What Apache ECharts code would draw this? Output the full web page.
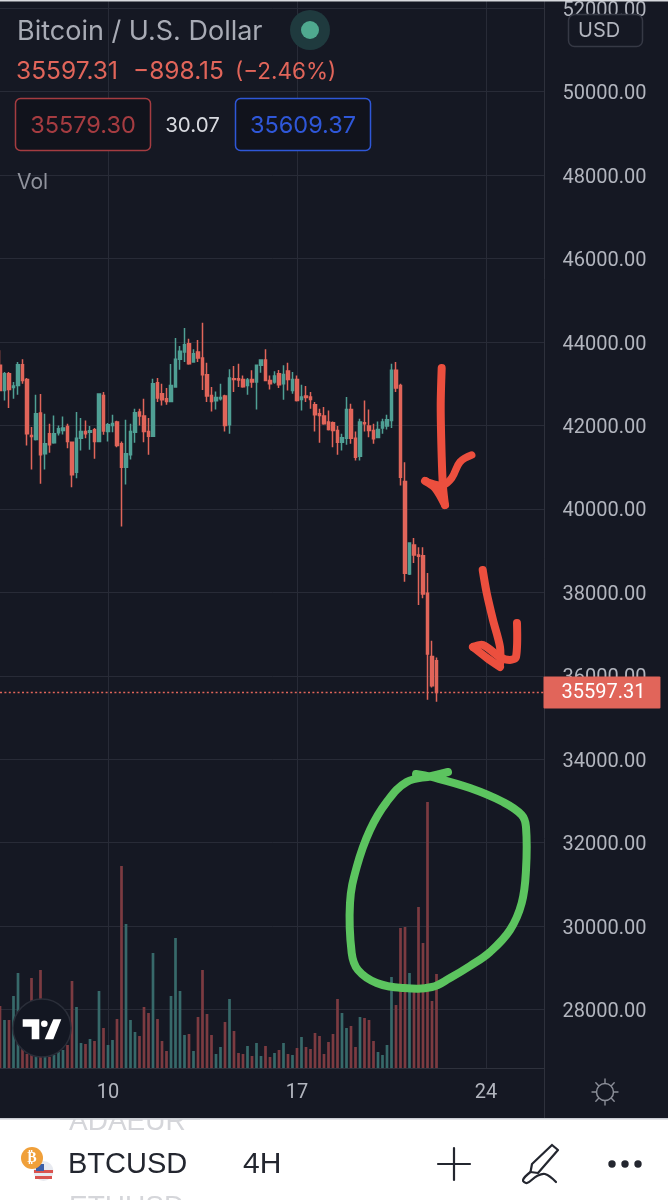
<!DOCTYPE html>
<html>
<head>
<meta charset="utf-8">
<script src="https://cdn.jsdelivr.net/npm/echarts@6/dist/echarts.min.js"></script>
<style>
html, body { margin: 0; padding: 0; background: #151823; }
#chart { width: 668px; height: 1200px; }
</style>
</head>
<body>
<div id="chart"></div>
<script>
// BTCUSD 4H candles
var opens = [43440,42840,43240,42912,42960,43456,43104,41760,41664,42296,41320,41800,41584,41824,41880,41976,41600,40880,41696,41856,
    41840,41896,41616,42720,41856,42000,42080,41560,41000,41296,41840,42320,42224,41856,41744,43024,42760,42640,42576,42920,
    43584,43760,43960,43520,43760,43616,43216,42720,42592,42640,42704,42016,43120,43120,43104,42960,43104,43040,43440,43568,
    43080,43040,43240,43000,43304,42840,43104,42624,42704,42680,42496,42280,42224,42080,42064,41880,41600,41696,42384,41696,
    41264,42064,41984,41880,41712,41936,41984,42120,43320,42960,40656,38440,39136,38896,38880,37976,36464,36360];
var closes = [42840,43240,42864,42944,43456,43080,41800,41736,42280,41296,41560,41536,41800,41920,41936,41616,40816,41696,41856,41800,
    41872,41616,42752,41864,42016,42048,41520,41000,41320,41856,42304,42224,41856,41744,43000,42656,42616,42576,42960,43584,
    43776,43936,43480,43720,43616,43216,42704,42576,42672,42672,42000,43136,43104,43088,42928,43088,43040,43440,43568,43080,
    43000,43184,42976,43224,43104,43104,42600,42680,42672,42624,42256,42240,42040,41904,41880,41600,41704,42384,41696,41240,
    42080,42040,41880,41680,41904,42080,42136,43320,42896,40760,38456,39184,38896,38864,37960,36520,35760,35597.31];
var lows = [42840,42600,42416,42640,42736,43000,41520,40944,41640,40600,40944,41344,41560,41760,41784,41456,40520,40736,41400,41696,
    41416,41200,41600,41776,41616,41840,41480,39580,40584,41184,41584,42000,41600,41296,41728,42560,42480,42496,42560,42920,
    43336,43520,43456,43504,43520,42848,42560,42336,42384,42600,41856,41800,42800,42920,42904,42736,42904,42384,43264,43080,
    42864,43000,42896,42616,42840,42760,42576,42360,42560,42400,41856,41584,42016,41880,41480,41296,41400,41536,41560,41160,
    41160,41856,41720,41560,41696,41800,41904,41936,42800,40560,38256,38416,38704,37696,37856,35424,35720,35376];
var highs = [43800,43280,43280,43040,43520,43584,43136,41960,42736,42752,42280,42040,42240,42000,42216,42040,41616,42320,42176,42120,
    41984,41936,42768,42800,42056,42256,42112,41616,42136,42040,42400,42400,42640,42176,43120,43136,43000,42896,43472,44096,
    43904,44336,44080,43824,44048,44464,43504,42920,42816,43000,42736,43344,43424,43480,43200,43136,43320,43440,43568,43824,
    43200,43296,43328,43440,43504,43280,43200,42976,42944,42800,42560,42400,42440,42360,42096,41984,41800,42680,42520,41856,
    42160,42600,42384,42040,42096,42160,42256,43480,43520,43000,41120,39184,39304,39080,39080,38464,36840,36440];
var volumes = [62,48,48,72,95,21,14,90,11,98,11,11,13,16,18,23,87,61,25,24,
    29,27,77,40,23,28,49,202,144,48,36,32,61,55,115,49,27,17,72,130,
    77,33,34,17,51,98,54,33,14,21,46,69,37,15,14,22,12,25,12,22,
    11,15,18,25,14,13,20,31,21,19,35,32,14,26,34,69,55,40,42,21,
    51,50,48,27,16,13,23,91,63,140,141,95,81,161,125,266,67,94];
var lastPrice = 35597.31;
var slotCount = 122;
var dayTicks = { 24: '10', 66: '17', 108: '24' };

var bg = '#151823', gridColor = '#282b37', axisText = '#b2b5be';
var upColor = '#4f9f94', downColor = '#e1655a';
var upVol = '#37696a', downVol = '#7c3b41';
var uiFont = 'Inter, Roboto, sans-serif';
var scaleFont = 'Roboto, sans-serif';
var barFont = 'Liberation Sans, sans-serif';

var categories = [];
for (var i = 0; i < slotCount; i++) categories.push(dayTicks[i] || '');

var candles = opens.map(function (o, i) { return [o, closes[i], lows[i], highs[i]]; });
var volBars = volumes.map(function (v, i) {
    return { value: v, itemStyle: { color: closes[i] >= opens[i] ? upVol : downVol } };
});
function isDayTick(i) { return dayTicks[i] !== undefined; }

// helpers for the app chrome and the hand drawn marks
function text(x, y, str, size, color, align, font) {
    return { type: 'text', z: 20, style: { x: x, y: y, text: str, fontSize: size, fontFamily: font || uiFont, fill: color, textAlign: align || 'left', textVerticalAlign: 'middle' } };
}
function stroke(points, color, width, smooth, z) {
    return { type: 'polyline', z: z || 15, shape: { points: points, smooth: smooth || 0 },
        style: { stroke: color, lineWidth: width, fill: null, lineCap: 'round', lineJoin: 'round' } };
}
function rect(x, y, w, h, fill, line, r, z) {
    return { type: 'rect', z: z || 18, shape: { x: x, y: y, width: w, height: h, r: r || 0 },
        style: { fill: fill, stroke: line || null, lineWidth: line ? 1.5 : 0 } };
}
function circle(cx, cy, r, fill, line, z) {
    return { type: 'circle', z: z || 20, shape: { cx: cx, cy: cy, r: r },
        style: { fill: fill, stroke: line || null, lineWidth: line ? 1.5 : 0 } };
}
function poly(points, fill, z) {
    return { type: 'polygon', z: z || 21, shape: { points: points }, style: { fill: fill } };
}

var sunRays = [];
for (var a = 0; a < 8; a++) {
    var ang = a * Math.PI / 4;
    sunRays.push(stroke([[605 + 9 * Math.cos(ang), 1092 + 9 * Math.sin(ang)], [605 + 13 * Math.cos(ang), 1092 + 13 * Math.sin(ang)]], '#8b8e98', 1.4));
}

var redInk = '#ec4f3e', greenInk = '#5cc45f';
var graphics = [
    rect(0, 0, 668, 1.5, '#d8dade', null, 0, 30),
    // legend block
    text(17, 32, 'Bitcoin / U.S. Dollar', 27, '#a8abb5'),
    circle(310, 30, 20, '#1f3a3e'),
    circle(310, 30, 9, '#4fa98f', null, 21),
    text(16, 72, '35597.31', 24.5, '#e1655a'),
    text(133, 72, '\u2212898.15', 24.5, '#e1655a'),
    text(235, 72, '(\u22122.46%)', 22.5, '#e1655a'),
    rect(15.5, 98.5, 135, 52, '#11131c', '#a53c41', 5),
    text(83, 126, '35579.30', 23.5, '#a53c41', 'center'),
    text(192.5, 126, '30.07', 20.5, '#d8dae0', 'center'),
    rect(235.5, 98.5, 135, 52, '#11131c', '#2f57d8', 5),
    text(303, 126, '35609.37', 23.5, '#2f57d8', 'center'),
    text(17, 183, 'Vol', 21, '#8f929c'),
    // currency button
    rect(568.5, 14.5, 74, 32, '#151823', '#363945', 6),
    text(578, 31, 'USD', 20, axisText),
    stroke([[626, 28], [630.5, 33], [635, 28]], axisText, 1.6),
    // logo
    circle(42, 1028, 29, '#131722', '#2a2e39'),
    poly([[22.7, 1019.3], [39.3, 1019.3], [39.3, 1039.3], [31.7, 1039.3], [31.7, 1026.7], [22.7, 1026.7]], '#fff'),
    circle(44.3, 1023.7, 3.3, '#fff', null, 21),
    poly([[53.3, 1019.3], [61.3, 1019.3], [53.3, 1039.3], [44.7, 1039.3]], '#fff'),
    // arrows
    stroke([[441.7, 368], [440.7, 407], [441.7, 457], [443, 487], [445, 505]], redInk, 8, 0.3),
    stroke([[425, 481], [435, 488], [445, 505]], redInk, 8, 0.3),
    stroke([[471.7, 455], [460, 462], [451.7, 478], [443, 485], [430, 483], [426, 481]], redInk, 7.5, 0.4),
    stroke([[482.7, 570], [486.7, 593], [493, 620], [500, 647], [500, 665]], redInk, 8, 0.3),
    stroke([[473, 647], [483, 645], [500, 657], [510, 660], [516, 657], [517, 623]], redInk, 8, 0.3),
    stroke([[473, 647], [487, 658], [500, 667]], redInk, 8, 0.3),
    // circled volume
    stroke([[416, 774], [431.7, 777], [470, 788], [503, 802], [521.7, 815], [526, 827], [526, 870], [521.7, 903], [510, 930],
        [490, 952], [470, 966], [450, 978], [432, 987], [403, 988], [376.7, 983], [358, 970], [351.7, 953], [350, 903], [356.7, 867],
        [370, 830], [386.7, 802], [406.7, 782], [431.7, 776], [448, 772]], greenInk, 8, 0.4),
    // right scale edge and bottom bar
    stroke([[544.5, 0], [544.5, 1118]], '#2e313c', 1, 0, 5),
    rect(0, 1118, 668, 82, '#ffffff', null, 0, 10),
    rect(0, 1118, 668, 1.5, '#c9ccd3', null, 0, 13),
    text(69, 1122, 'ADAEUR', 28, '#d5d6da', 'left', barFont),
    rect(60, 1106, 140, 12, bg, null, 0, 25),
    rect(60, 1118, 140, 1.5, '#c9ccd3', null, 0, 26),
    text(69, 1207, 'ETHUSD', 28, '#d5d6da', 'left', barFont),
    text(68, 1165, 'BTCUSD', 29, '#23262f', 'left', barFont),
    text(243, 1165, '4H', 30, '#23262f', 'left', barFont),
    circle(43.5, 1171, 10, '#e8eaf0', null, 20),
    rect(34, 1170, 19, 3, '#d9534f', null, 0, 21),
    rect(35, 1176, 17, 3, '#d9534f', null, 0, 21),
    rect(36, 1164, 8, 7, '#3c5fa8', null, 0, 21),
    circle(32, 1158, 11, '#f0a03a', null, 22),
    { type: 'text', z: 23, style: { x: 32, y: 1158, text: '\u20bf', fontSize: 14, fontWeight: 'bold', fontFamily: 'DejaVu Sans', fill: '#fff', textAlign: 'center', textVerticalAlign: 'middle' } },
    stroke([[438, 1164], [470, 1164]], '#23262f', 2.2),
    stroke([[454, 1148], [454, 1180]], '#23262f', 2.2),
    stroke([[552, 1145], [558, 1150], [538, 1173], [530.5, 1172], [532, 1164], [552, 1145]], '#23262f', 2.2),
    stroke([[530.5, 1172], [523, 1180], [527, 1183], [537, 1176], [545, 1174], [556, 1182]], '#23262f', 2.2, 0.4),
    circle(612, 1164, 3.7, '#23262f'),
    circle(625, 1164, 3.7, '#23262f'),
    circle(638, 1164, 3.7, '#23262f')
].concat(sunRays, [circle(605, 1092, 8.5, 'transparent', '#8b8e98')]);

var chart = echarts.init(document.getElementById('chart'));
var option = {
    backgroundColor: bg,
    animation: false,
    grid: [
        { left: 0, top: 8.2, width: 544.5, height: 1001.4 },
        { left: 0, top: 0, width: 544.5, height: 1068 }
    ],
    xAxis: [
        { type: 'category', gridIndex: 0, data: categories, boundaryGap: false, show: false },
        {
            type: 'category', gridIndex: 1, data: categories, boundaryGap: false,
            axisTick: { show: false },
            axisLine: { lineStyle: { color: '#2e313c' } },
            axisLabel: { interval: function (i) { return isDayTick(i); }, color: axisText, fontSize: 20, fontFamily: scaleFont, margin: 15 },
            splitLine: { show: true, interval: function (i) { return isDayTick(i); }, lineStyle: { color: gridColor, width: 1 } }
        }
    ],
    yAxis: [
        {
            type: 'value', gridIndex: 0, position: 'right', min: 28000, max: 52000, interval: 2000,
            axisLine: { show: false }, axisTick: { show: false },
            axisLabel: { color: axisText, fontSize: 20, fontFamily: scaleFont, margin: 18, verticalAlign: 'top', lineHeight: 5, formatter: function (v) { return v.toFixed(2); } },
            splitLine: { lineStyle: { color: gridColor, width: 1 } }
        },
        { type: 'value', gridIndex: 1, min: 0, max: 1068, show: false, splitLine: { show: false } }
    ],
    series: [
        {
            type: 'bar', xAxisIndex: 1, yAxisIndex: 1, data: volBars, barWidth: 2.7, z: 2
        },
        {
            type: 'candlestick', xAxisIndex: 0, yAxisIndex: 0, data: candles, barWidth: 3.4, z: 3,
            itemStyle: { color: upColor, color0: downColor, borderColor: upColor, borderColor0: downColor, borderWidth: 1.5 },
            markLine: {
                silent: true, symbol: 'none', animation: false,
                data: [{ yAxis: lastPrice }],
                lineStyle: { color: '#e1655a', type: [2, 2.4], width: 1.4 },
                label: {
                    position: 'end', distance: -1, formatter: lastPrice.toFixed(2), color: '#fff',
                    fontSize: 20, fontFamily: scaleFont, backgroundColor: '#e1655a',
                    padding: [9, 15, 3, 18], borderRadius: 1
                }
            }
        }
    ],
    graphic: graphics
};
chart.setOption(option);
</script>
</body>
</html>
